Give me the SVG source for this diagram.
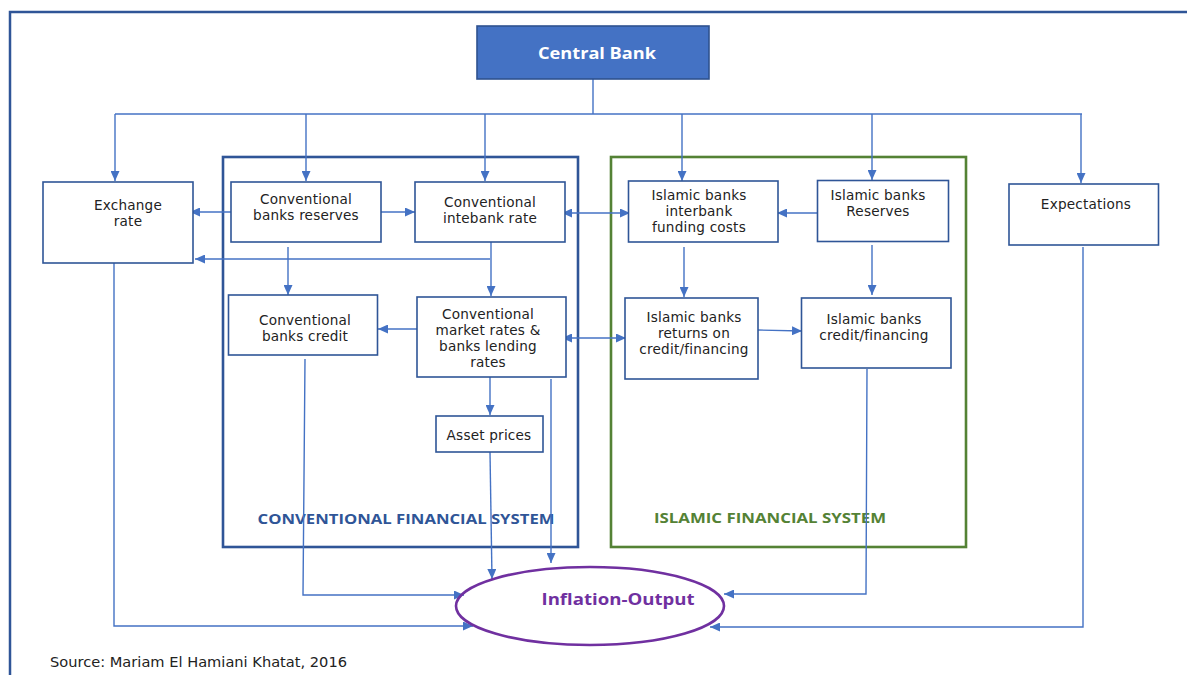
<svg xmlns="http://www.w3.org/2000/svg" width="1187" height="675" viewBox="0 0 1187 675">
<style>
.box{fill:#fff;stroke:#2f5597;stroke-width:1.6}
.t{font-family:"DejaVu Sans","Noto Sans",sans-serif;font-size:13.6px;fill:#222;text-anchor:middle;letter-spacing:0.2px}
.c{fill:none;stroke:#4472c4;stroke-width:1.4}
.a{marker-end:url(#ah)}
.b{marker-start:url(#ah);marker-end:url(#ah)}
.bt{font-family:"Open Sans","Noto Sans","Liberation Sans",sans-serif;font-weight:bold;text-anchor:middle}
</style>
<defs>
<marker id="ah" markerUnits="userSpaceOnUse" markerWidth="11" markerHeight="9" refX="10" refY="4.5" orient="auto-start-reverse">
<path d="M0,0 L10,4.5 L0,9 z" fill="#4472c4"/>
</marker>
</defs>
<rect width="1187" height="675" fill="#fff"/>
<path d="M10 675 V12 H1187" fill="none" stroke="#2f5597" stroke-width="2.5"/>

<g id="conventional-system">
<rect x="223" y="157" width="355" height="390" fill="none" stroke="#2f5597" stroke-width="2.6"/>
<text class="bt" x="406" y="524" font-size="13.5" fill="#2f5597" textLength="297" lengthAdjust="spacingAndGlyphs">CONVENTIONAL FINANCIAL SYSTEM</text>
</g>
<g id="islamic-system">
<rect x="611" y="157" width="355" height="390" fill="none" stroke="#548235" stroke-width="2.6"/>
<text class="bt" x="770" y="523" font-size="13.5" fill="#548235" textLength="232" lengthAdjust="spacingAndGlyphs">ISLAMIC FINANCIAL SYSTEM</text>
</g>

<g id="connectors">
<path class="c" d="M593 79 V114"/>
<path class="c" d="M115 114 H1082"/>
<path class="c a" d="M115 114 V181"/>
<path class="c a" d="M306 114 V181"/>
<path class="c a" d="M485 114 V181"/>
<path class="c a" d="M682 114 V181"/>
<path class="c a" d="M872 114 V180"/>
<path class="c a" d="M1081 114 V183"/>
<path class="c a" d="M231 212 H190"/>
<path class="c a" d="M381 212 H415"/>
<path class="c b" d="M562 213 H630"/>
<path class="c a" d="M817 213 H777"/>
<path class="c a" d="M490 259 H195"/>
<path class="c a" d="M491 242 V296"/>
<path class="c a" d="M288 247 V295"/>
<path class="c a" d="M417 329 H378"/>
<path class="c b" d="M562 338 H626"/>
<path class="c a" d="M490 377 V415"/>
<path class="c a" d="M490 452 L492 579"/>
<path class="c a" d="M551 379 V563"/>
<path class="c a" d="M305 359 L303 595 H464"/>
<path class="c a" d="M114 263 V626 H473"/>
<path class="c a" d="M758 330 L802 331"/>
<path class="c a" d="M684 247 V297"/>
<path class="c a" d="M872 245 V295"/>
<path class="c a" d="M867 369 L866 594 H724"/>
<path class="c a" d="M1083 247 V627 H710"/>
</g>

<g id="central-bank">
<rect x="477" y="26" width="232" height="53" fill="#4472c4" stroke="#2f528f" stroke-width="1.6"/>
<text class="bt" x="597" y="59" font-size="16" fill="#fff" textLength="118" lengthAdjust="spacingAndGlyphs">Central Bank</text>
</g>
<g id="exchange-rate">
<rect class="box" x="43" y="182" width="150" height="81"/>
<text class="t" x="128" y="210">Exchange</text>
<text class="t" x="128" y="226">rate</text>
</g>
<g id="conv-reserves">
<rect class="box" x="231" y="182" width="150" height="60"/>
<text class="t" x="306" y="204">Conventional</text>
<text class="t" x="306" y="220">banks reserves</text>
</g>
<g id="conv-interbank">
<rect class="box" x="415" y="182" width="150" height="60"/>
<text class="t" x="490" y="207">Conventional</text>
<text class="t" x="490" y="223">intebank rate</text>
</g>
<g id="conv-credit">
<rect class="box" x="228.5" y="295" width="149" height="60"/>
<text class="t" x="305" y="325">Conventional</text>
<text class="t" x="305" y="341">banks credit</text>
</g>
<g id="conv-market">
<rect class="box" x="417" y="297" width="149" height="80"/>
<text class="t" x="488" y="319">Conventional</text>
<text class="t" x="488" y="335">market rates &amp;</text>
<text class="t" x="488" y="351">banks lending</text>
<text class="t" x="488" y="367">rates</text>
</g>
<g id="asset-prices">
<rect class="box" x="436" y="416" width="107" height="36"/>
<text class="t" x="489" y="440">Asset prices</text>
</g>
<g id="isl-interbank">
<rect class="box" x="628.5" y="181" width="149.5" height="61"/>
<text class="t" x="699" y="200">Islamic banks</text>
<text class="t" x="699" y="216">interbank</text>
<text class="t" x="699" y="232">funding costs</text>
</g>
<g id="isl-reserves">
<rect class="box" x="817.5" y="180.5" width="131" height="61"/>
<text class="t" x="878" y="200">Islamic banks</text>
<text class="t" x="878" y="216">Reserves</text>
</g>
<g id="isl-returns">
<rect class="box" x="625" y="298" width="133" height="81"/>
<text class="t" x="694" y="322">Islamic banks</text>
<text class="t" x="694" y="338">returns on</text>
<text class="t" x="694" y="354">credit/financing</text>
</g>
<g id="isl-credit">
<rect class="box" x="801.5" y="298" width="149.5" height="70"/>
<text class="t" x="874" y="324">Islamic banks</text>
<text class="t" x="874" y="340">credit/financing</text>
</g>
<g id="expectations">
<rect class="box" x="1009" y="184" width="149.5" height="61"/>
<text class="t" x="1086" y="209">Expectations</text>
</g>
<g id="inflation-output">
<ellipse cx="590" cy="606" rx="134" ry="39" fill="none" stroke="#7030a0" stroke-width="2.6"/>
<text class="bt" x="618" y="605" font-size="16" fill="#7030a0" textLength="153" lengthAdjust="spacingAndGlyphs">Inflation-Output</text>
</g>
<text x="50" y="667" font-family="DejaVu Sans,Noto Sans,sans-serif" font-size="13.6" fill="#222" textLength="297" lengthAdjust="spacingAndGlyphs">Source: Mariam El Hamiani Khatat, 2016</text>
</svg>
